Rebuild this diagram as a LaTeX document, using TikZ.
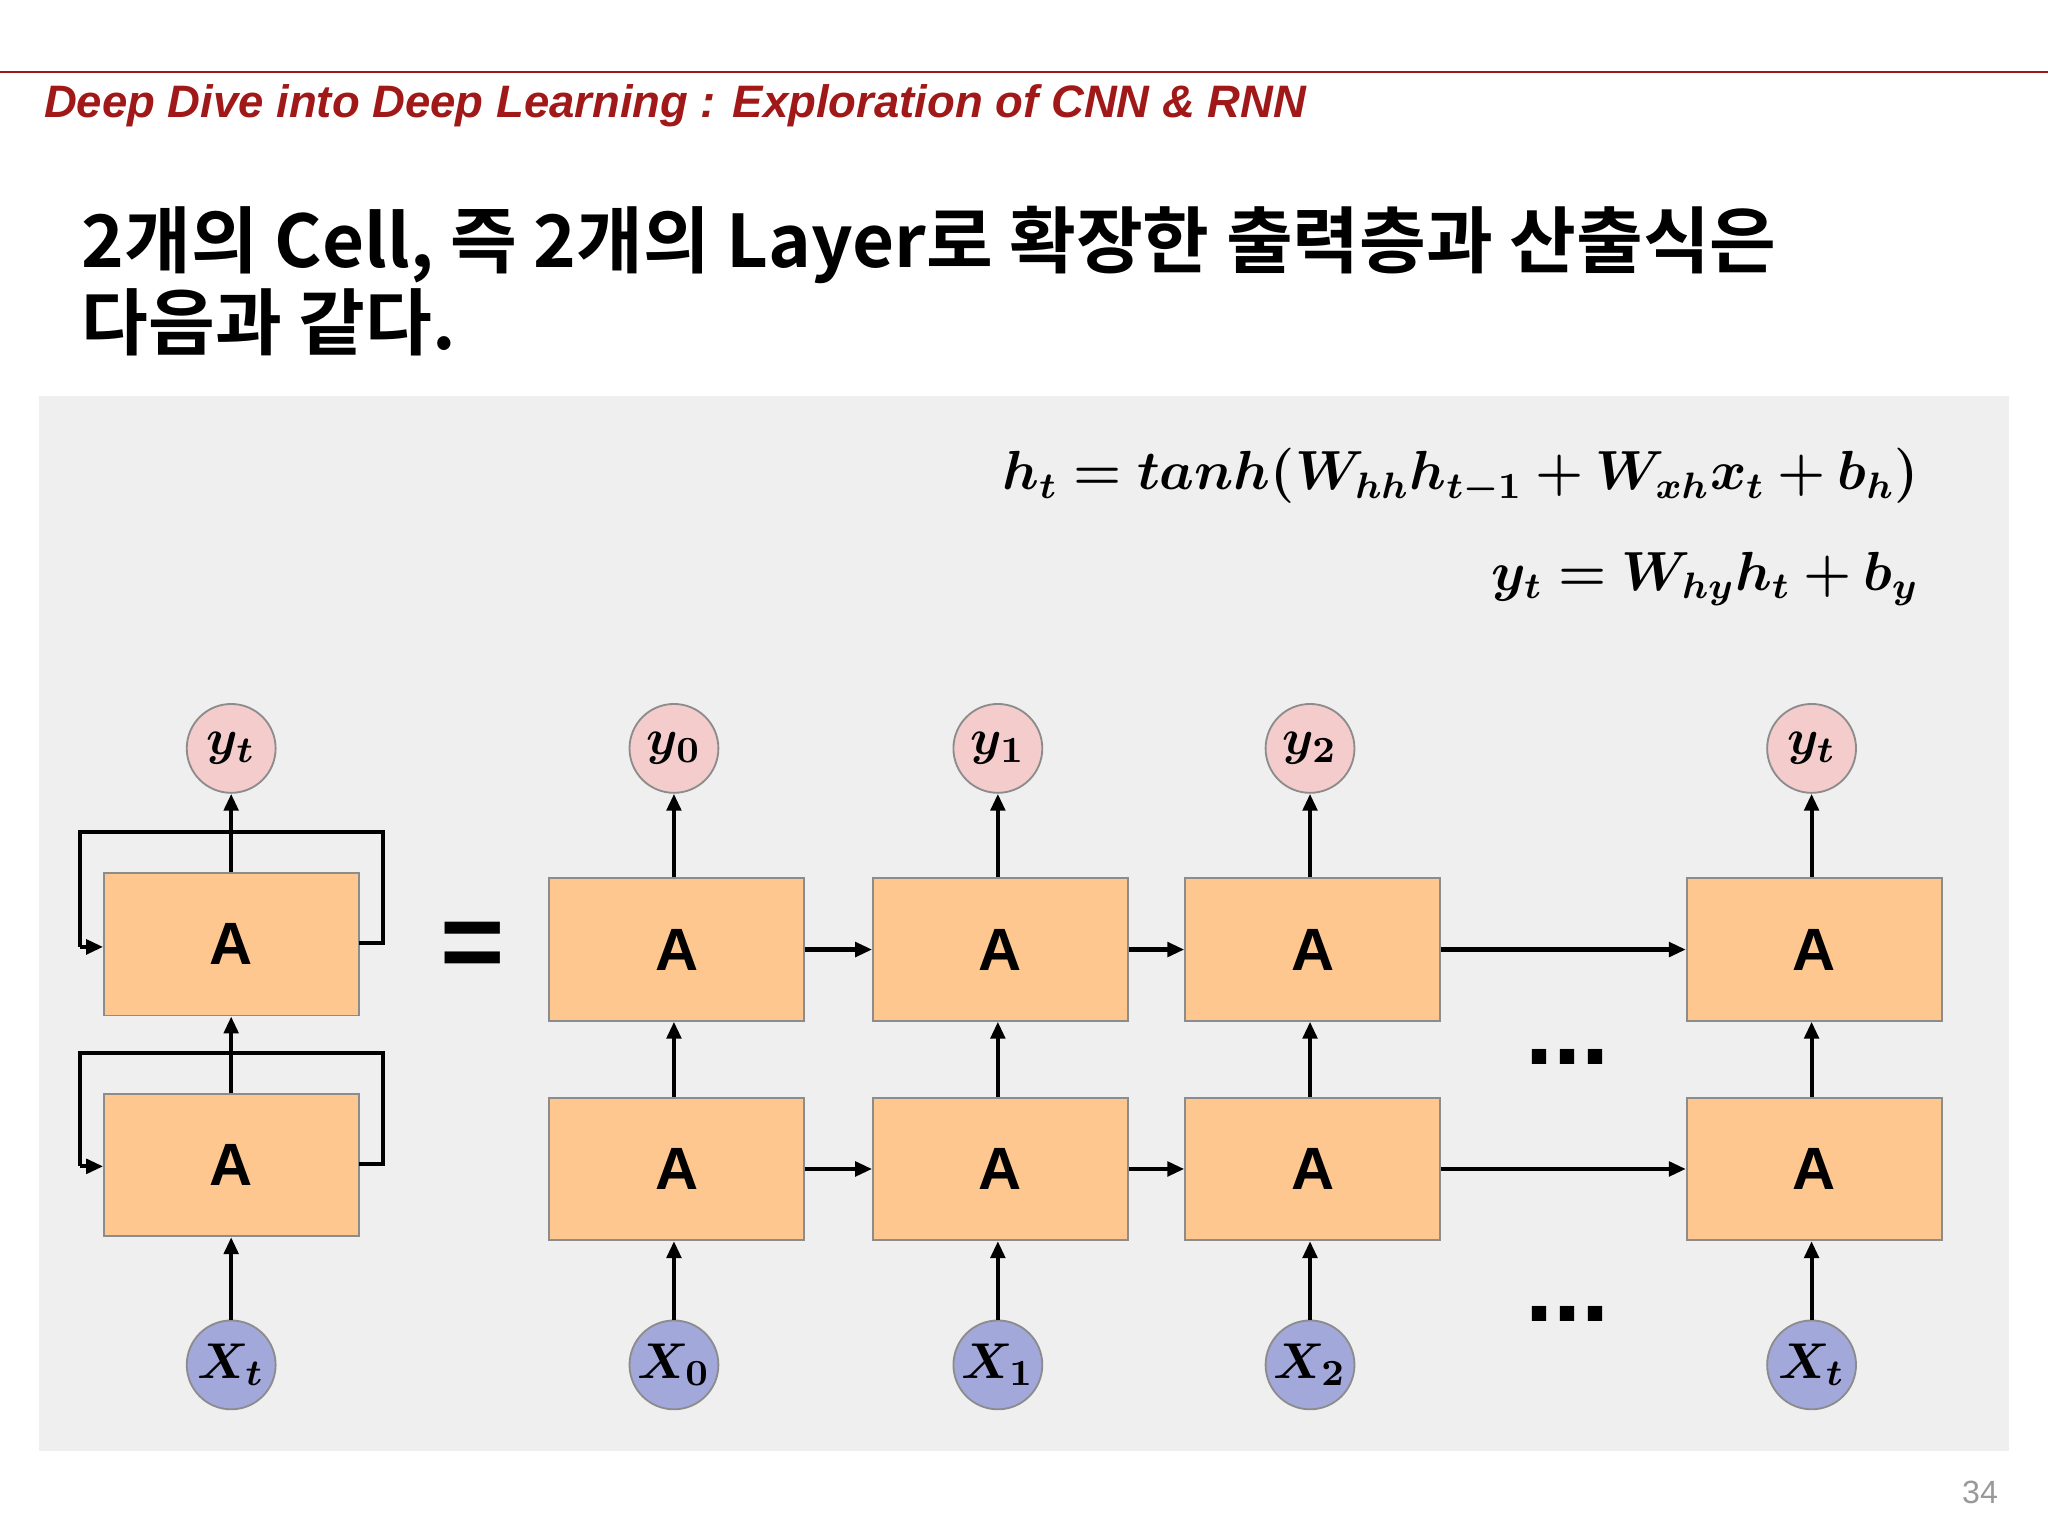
\documentclass[tikz,border=0pt]{standalone}
\usepackage{amsmath,amssymb,bm}
\usepackage{fontspec}
\setmainfont{Liberation Sans}
\newfontfamily\kr{Noto Sans CJK KR}[BoldFont={* Bold}]
\usetikzlibrary{arrows.meta}
\definecolor{panel}{HTML}{EFEFEF}
\definecolor{boxc}{HTML}{FDC78F}
\definecolor{pinkc}{HTML}{F4CCCC}
\definecolor{bluec}{HTML}{A2A8DA}
\definecolor{hdr}{HTML}{A01818}
\begin{document}
\begin{tikzpicture}[x=0.01cm,y=-0.01cm,
  cell/.style={draw=black!45,line width=0.4pt,fill=boxc,minimum width=1.95cm,minimum height=1.09cm,inner sep=0,font=\bfseries\fontsize{13}{13}\selectfont},
  yc/.style={circle,draw=black!45,line width=0.4pt,fill=pinkc,minimum size=0.68cm,inner sep=0,font=\fontsize{11}{11}\selectfont},
  xc/.style={circle,draw=black!45,line width=0.4pt,fill=bluec,minimum size=0.68cm,inner sep=0,font=\fontsize{11}{11}\selectfont},
  eqs/.style={anchor=base east,inner sep=0,font=\fontsize{11.6}{12}\selectfont},
  arr/.style={line width=0.9pt,-{Triangle[length=1.3mm,width=1.1mm]}}]
\useasboundingbox (0,0) rectangle (1568,1176);
\fill[white] (0,0) rectangle (1568,1176);
\draw[hdr,line width=0.5pt] (0,55) -- (1568,55);
\node[anchor=base west,inner sep=0,text=hdr,font=\bfseries\itshape\fontsize{9.9}{10}\selectfont] (hd) at (33,90) {Deep Dive into Deep Learning : Exploration of CNN \& RNN};
\node[anchor=north west,inner sep=0,align=left,font=\kr\bfseries\fontsize{15.8}{17.8}\selectfont] (tt) at (62,157) {2개의 Cell, 즉 2개의 Layer로 확장한 출력층과 산출식은\\다음과 같다.};
\fill[panel] (30,303) rectangle (1538,1111);
\node[eqs] (eqa) at (1470,375) {$\bm{h_t = tanh(W_{hh}h_{t-1}+W_{xh}x_t+b_h)}$};
\node[eqs] (eqb) at (1470,452) {$\bm{y_t = W_{hy}h_t+b_y}$};
% left folded
\node[cell] (LT) at (177,723) {A};
\node[cell] (LB) at (177,892) {A};
\node[yc] (Ly) at (177,573) {$\bm{y_t}$};
\node[xc] (Lx) at (177,1045) {$\bm{X_t}$};
\draw[arr] (Lx) -- (LB);
\draw[arr] (LB) -- (LT);
\draw[arr] (LT) -- (Ly);
\draw[line width=0.9pt] (275,722) -- (293,722) -- (293,637) -- (61,637) -- (61,725);
\draw[arr] (61,725) -- (79,725);
\draw[line width=0.9pt] (275,891) -- (293,891) -- (293,806) -- (61,806) -- (61,893);
\draw[arr] (61,893) -- (79,893);
\node[font=\bfseries\fontsize{24}{24}\selectfont] (eq) at (362,728) {=};
% unrolled
\foreach \n/\cx/\yl/\xl in {a/518/y_0/X_{\mathbf{0}},b/766/y_1/X_{\mathbf{1}},c/1005/y_2/X_{\mathbf{2}},d/1389/y_t/X_t}{
  \node[cell] (T\n) at (\cx,727) {A};
  \node[cell] (B\n) at (\cx,895) {A};
  \node[yc] (Y\n) at (\cx-2,573) {$\bm{\yl}$};
  \node[xc] (X\n) at (\cx-2,1045) {$\bm{\xl}$};
  \draw[arr] (X\n) -- (X\n|-B\n.south);
  \draw[arr] (X\n|-B\n.north) -- (X\n|-T\n.south);
  \draw[arr] (X\n|-T\n.north) -- (Y\n);
}
\foreach \p/\q in {a/b,b/c,c/d}{
  \draw[arr] (T\p) -- (T\q);
  \draw[arr] (B\p) -- (B\q);
}
\node[font=\bfseries\fontsize{22}{22}\selectfont] (d1) at (1200,809) {...};
\node[font=\bfseries\fontsize{22}{22}\selectfont] (d2) at (1200,1006) {...};
\node[text=black!40,font=\fontsize{7}{7}\selectfont] (pg) at (1516,1143) {34};
\end{tikzpicture}
\end{document}
